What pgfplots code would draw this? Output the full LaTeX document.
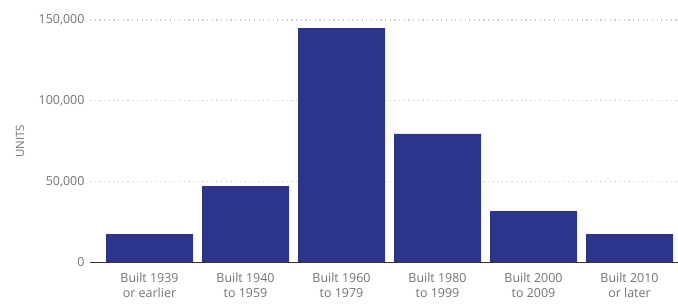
\documentclass[border=0pt]{standalone}
\usepackage{fontspec}
\setmainfont{Open Sans}
\usepackage{pgfplots}
\pgfplotsset{compat=1.18}
\definecolor{barblue}{RGB}{44,53,137}
\definecolor{txtgray}{RGB}{115,115,115}
\definecolor{gridgray}{RGB}{205,205,205}
\begin{document}
\begin{tikzpicture}
\useasboundingbox (0,0) rectangle (678bp,306bp);
\begin{axis}[
  at={(90bp,43.5bp)}, anchor=south west,
  width=588bp, height=242.5bp, scale only axis,
  xmin=-0.62, xmax=5.505,
  ymin=0, ymax=150000,
  axis line style={draw=none},
  scaled y ticks=false,
  ytick={0,50000,100000,150000},
  yticklabels={0,{50,000},{100,000},{150,000}},
  ymajorgrids,
  grid style={gridgray, line width=1.2pt, dash pattern=on 1.2pt off 3.5pt},
  major tick length=0pt,
  xtick={0,1,2,3,4,5},
  xticklabels={Built 1939\\or earlier, Built 1940\\to 1959, Built 1960\\to 1979, Built 1980\\to 1999, Built 2000\\to 2009, Built 2010\\or later},
  x tick label style={align=center, font=\fontsize{12.5}{15.5}\selectfont, text=txtgray, yshift=-7bp},
  y tick label style={font=\fontsize{12.5}{15}\selectfont, text=txtgray, xshift=-2bp},
  ylabel={UNITS},
  every axis y label/.style={at={(-70bp,0.5)}, rotate=90, anchor=center, font=\fontsize{11.5}{13}\selectfont, text=txtgray},
  clip=false,
]
\addplot[ybar, bar width=0.906, fill=barblue, draw=none] coordinates {
  (0,17600) (1,47300) (2,145000) (3,79500) (4,31800) (5,17600)
};
\draw[line width=1.6pt, black!80] (axis cs:-0.62,0) -- (axis cs:5.505,0);
\end{axis}
\end{tikzpicture}
\end{document}
